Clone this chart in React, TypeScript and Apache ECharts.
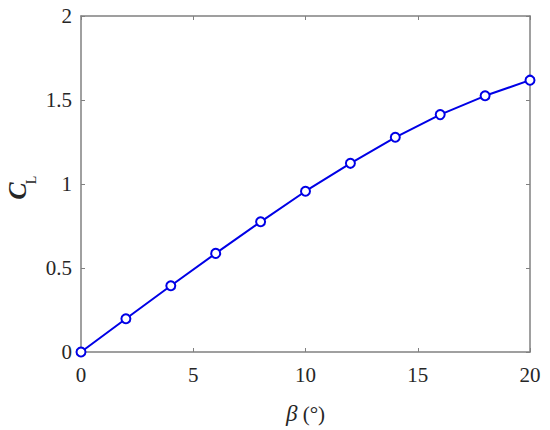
import React, { useEffect, useRef } from "react";
import * as echarts from "echarts";

const betaDeg = [0, 2, 4, 6, 8, 10, 12, 14, 16, 18, 20];
const cl = [0, 0.198, 0.394, 0.587, 0.775, 0.957, 1.123, 1.278, 1.413, 1.525, 1.618];
const xTicks = [0, 5, 10, 15, 20];
const yTicks = [0, 0.5, 1, 1.5, 2];

const AX = "#808080";
const TXT = "#262626";
const FONT = "Times New Roman";

export default function App() {
  const ref = useRef<HTMLDivElement>(null);
  useEffect(() => {
    if (!ref.current) return;
    const chart = echarts.init(ref.current, undefined, { renderer: "svg" });
    const axisCommon = {
      axisLine: { show: true, onZero: false, lineStyle: { color: AX, width: 1.5 } },
      axisTick: { show: true, inside: true, length: 4, lineStyle: { color: AX, width: 1 } },
      splitLine: { show: false },
    };
    chart.setOption({
      animation: false,
      backgroundColor: "#fff",
      textStyle: { fontFamily: FONT },
      grid: { left: 81, right: 20, top: 16, bottom: 70, containLabel: false },
      xAxis: [
        {
          type: "value",
          min: xTicks[0],
          max: xTicks[xTicks.length - 1],
          interval: 5,
          ...axisCommon,
          axisLabel: { color: TXT, fontFamily: FONT, fontSize: 21, margin: 12 },
          name: "{b|β}{n| (°)}",
          nameLocation: "middle",
          nameGap: 50,
          nameTextStyle: {
            color: TXT,
            fontFamily: FONT,
            fontSize: 21,
            rich: {
              b: { fontStyle: "italic", fontFamily: FONT, fontSize: 23, color: TXT },
              n: { fontFamily: FONT, fontSize: 21, color: TXT },
            },
          },
        },
        {
          type: "value",
          position: "top",
          min: xTicks[0],
          max: xTicks[xTicks.length - 1],
          interval: 5,
          ...axisCommon,
          axisLabel: { show: false },
        },
      ],
      yAxis: [
        {
          type: "value",
          min: yTicks[0],
          max: yTicks[yTicks.length - 1],
          interval: 0.5,
          ...axisCommon,
          axisLabel: { color: TXT, fontFamily: FONT, fontSize: 21, margin: 9 },
        },
        {
          type: "value",
          position: "right",
          min: yTicks[0],
          max: yTicks[yTicks.length - 1],
          interval: 0.5,
          ...axisCommon,
          axisLabel: { show: false },
        },
      ],
      graphic: [
        {
          type: "text",
          x: 17,
          y: 191,
          rotation: Math.PI / 2,
          style: {
            text: "C",
            fontFamily: FONT,
            fontSize: 26,
            fontWeight: "bold",
            fontStyle: "italic",
            fill: TXT,
            align: "center",
            verticalAlign: "middle",
          },
        },
        {
          type: "text",
          x: 31,
          y: 180,
          rotation: Math.PI / 2,
          style: {
            text: "L",
            fontFamily: FONT,
            fontSize: 14,
            fill: TXT,
            align: "center",
            verticalAlign: "middle",
          },
        },
      ],
      series: [
        {
          type: "line",
          data: betaDeg.map((b, i) => [b, cl[i]]),
          lineStyle: { color: "#0000e6", width: 2 },
          itemStyle: { color: "#fff", borderColor: "#0000e6", borderWidth: 2 },
          symbol: "circle",
          symbolSize: 9,
          showSymbol: true,
          clip: false,
          z: 5,
        },
      ],
    });
    return () => chart.dispose();
  }, []);
  return <div ref={ref} style={{ width: 550, height: 430, position: "absolute", left: 0, top: 0 }} />;
}
